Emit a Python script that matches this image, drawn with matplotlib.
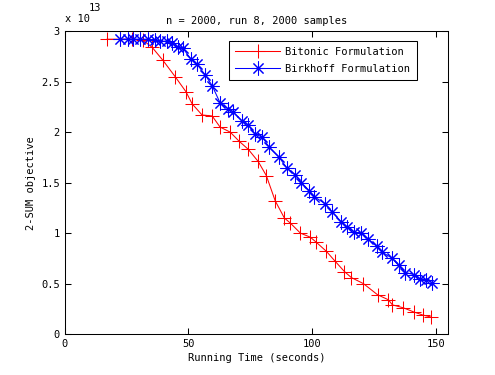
import numpy as np
import matplotlib
matplotlib.use("Agg")
import matplotlib.pyplot as plt
from matplotlib.ticker import FuncFormatter

# values (y in units of 1e13)
bitonic_t = [17.1, 22.3, 27.2, 31.6, 35.3, 39.7, 44.6, 49.0, 51.5, 55.5, 59.6, 62.8,
             66.9, 70.5, 74.2, 78.2, 81.5, 85.1, 88.8, 91.2, 95.3, 99.3, 101.7, 105.8,
             109.4, 113.1, 115.9, 120.8, 126.5, 130.9, 132.5, 137.0, 141.1, 144.7, 148.0]
bitonic_obj = [2.92, 2.92, 2.92, 2.91, 2.84, 2.71, 2.55, 2.40, 2.28, 2.17, 2.16, 2.05,
               2.00, 1.91, 1.83, 1.71, 1.57, 1.32, 1.15, 1.10, 1.00, 0.96, 0.91, 0.82,
               0.72, 0.62, 0.56, 0.50, 0.39, 0.34, 0.29, 0.26, 0.22, 0.19, 0.17]

birkhoff_t = [22.3, 25.5, 27.6, 30.4, 33.6, 36.5, 38.5, 41.3, 43.4, 45.8, 47.8, 51.1,
              53.5, 56.7, 59.6, 62.8, 66.1, 68.1, 71.7, 74.2, 77.0, 79.9, 82.7, 86.7,
              90.0, 93.2, 95.7, 98.9, 100.9, 105.4, 108.2, 111.9, 114.3, 117.1, 120.0,
              122.8, 126.1, 128.5, 132.5, 135.0, 137.8, 141.1, 143.5, 146.3, 148.4]
birkhoff_obj = [2.92, 2.92, 2.92, 2.92, 2.92, 2.91, 2.90, 2.90, 2.88, 2.84, 2.83, 2.72,
                2.67, 2.57, 2.46, 2.29, 2.23, 2.20, 2.11, 2.07, 1.98, 1.95, 1.85, 1.75,
                1.64, 1.58, 1.50, 1.42, 1.36, 1.29, 1.21, 1.11, 1.06, 1.01, 1.00,
                0.94, 0.87, 0.81, 0.75, 0.68, 0.61, 0.59, 0.55, 0.54, 0.51]

xticks = [0, 50, 100, 150]
yticks = [0, 0.5, 1, 1.5, 2, 2.5, 3]
SCALE = 1e13

plt.rcParams["font.family"] = ["DejaVu Sans Mono"]
plt.rcParams["font.size"] = 7.5

fig = plt.figure(figsize=(4.95, 3.75), dpi=100)
ax = fig.add_axes([0.131, 0.109, 0.774, 0.808])

ax.plot(bitonic_t, np.array(bitonic_obj) * SCALE, color="red", lw=0.75,
        marker="+", ms=10, mew=0.75, label="Bitonic Formulation")
ax.plot(birkhoff_t, np.array(birkhoff_obj) * SCALE, color="blue", lw=0.75,
        marker=(8, 2, 0), ms=10, mew=0.75, label="Birkhoff Formulation")

ax.set_xlim(0, 155)
ax.set_ylim(0, 3 * SCALE)
ax.set_xticks(xticks)
ax.set_yticks([v * SCALE for v in yticks])
ax.yaxis.set_major_formatter(FuncFormatter(lambda v, p: "%g" % (v / SCALE)))
ax.tick_params(direction="in", top=True, right=True, length=4, width=0.75)
for s in ax.spines.values():
    s.set_linewidth(0.75)

ax.set_title("n = 2000, run 8, 2000 samples", fontsize=7.5, pad=5)
ax.set_xlabel("Running Time (seconds)", labelpad=3)
ax.set_ylabel("2-SUM objective", labelpad=4)

ax.text(0.0, 1.025, "x 10", transform=ax.transAxes, ha="left", va="bottom")
ax.text(0.062, 1.06, "13", transform=ax.transAxes, ha="left", va="bottom")

leg = ax.legend(loc="upper right", bbox_to_anchor=(0.918, 0.968), borderaxespad=0,
                numpoints=1, handlelength=4.3, fancybox=False, framealpha=1,
                edgecolor="black", borderpad=0.6, labelspacing=0.65, handletextpad=0.5)
leg.get_frame().set_linewidth(0.75)

fig.savefig("out.png", dpi=100)
